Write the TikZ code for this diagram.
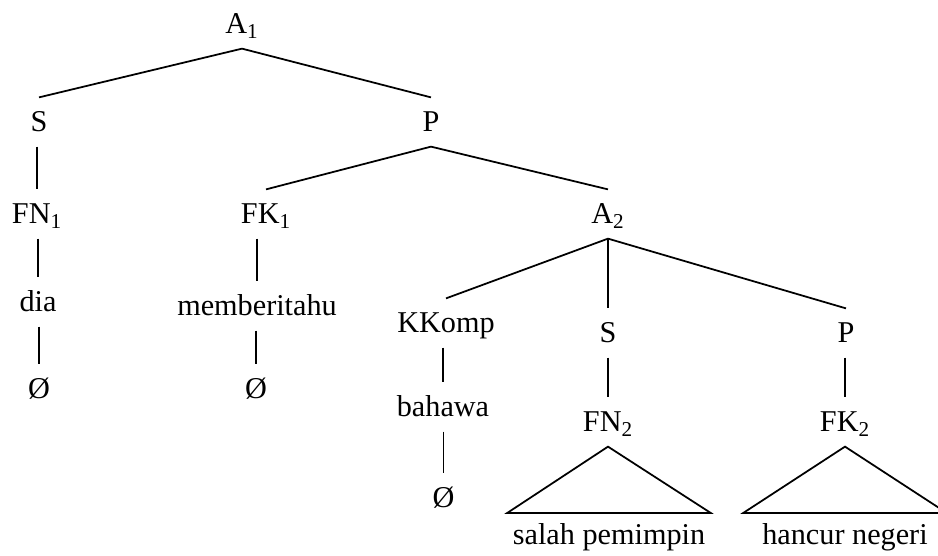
\documentclass[tikz,border=0pt]{standalone}
\usepackage{fontspec}
\setmainfont{Liberation Serif}
\tikzset{
  every picture/.style={font=\fontsize{17.2}{20}\selectfont, line width=1pt},
  cat/.style={inner sep=0pt, minimum height=0.95cm, text height=11.3pt, text depth=0pt},
  leaf/.style={inner sep=0pt, minimum height=0.85cm, minimum width=4.03cm, text height=11.3pt, text depth=0pt},
}

\begin{document}
\begin{tikzpicture}
  \clip (0,0) rectangle (18.76,-11.10);
  % top clause
  \node[cat] (a1) at (4.84,-0.48) {A\textsubscript{1}};
  \node[cat] (s1) at (0.78,-2.44) {S};
  \node[cat] (p1) at (8.62,-2.44) {P};
  \node[cat] (fn1) at (0.74,-4.28) {FN\textsubscript{1}};
  \node[cat] (fk1) at (5.32,-4.28) {FK\textsubscript{1}};
  \node[cat] (a2) at (12.16,-4.28) {A\textsubscript{2}};
  \node[cat] (dia) at (0.76,-6.04) {dia};
  \node[cat] (mb) at (5.14,-6.12) {memberitahu};
  \node[cat] (z1) at (0.78,-7.78) {Ø};
  \node[cat] (z2) at (5.12,-7.78) {Ø};
  % embedded clause
  \node[cat] (kk) at (8.92,-6.46) {KKomp};
  \node[cat] (s2) at (12.16,-6.66) {S};
  \node[cat] (p2) at (16.92,-6.66) {P};
  \node[cat] (bh) at (8.86,-8.14) {bahawa};
  \node[cat] (fn2) at (12.16,-8.44) {FN\textsubscript{2}};
  \node[cat] (fk2) at (16.90,-8.44) {FK\textsubscript{2}};
  \node[cat] (z3) at (8.87,-9.96) {Ø};
  \node[leaf] (sp) at (12.18,-10.70) {salah pemimpin};
  \node[leaf] (hn) at (16.90,-10.70) {hancur negeri};
  % branches
  \foreach \u/\v in {a1/s1, a1/p1, p1/fk1, p1/a2, a2/kk, a2/s2, a2/p2}
    \draw (\u.south) -- (\v.north);
  \foreach \u/\v in {s1/fn1, fn1/dia, dia/z1, fk1/mb, mb/z2, kk/bh, bh/z3, s2/fn2, p2/fk2}
    \draw (\v.north |- \u.south) -- (\v.north);
  % roofs
  \foreach \u/\v in {fn2/sp, fk2/hn}
    \draw (\u.south) -- (\v.north west) -- (\v.north east) -- cycle;
\end{tikzpicture}
\end{document}
